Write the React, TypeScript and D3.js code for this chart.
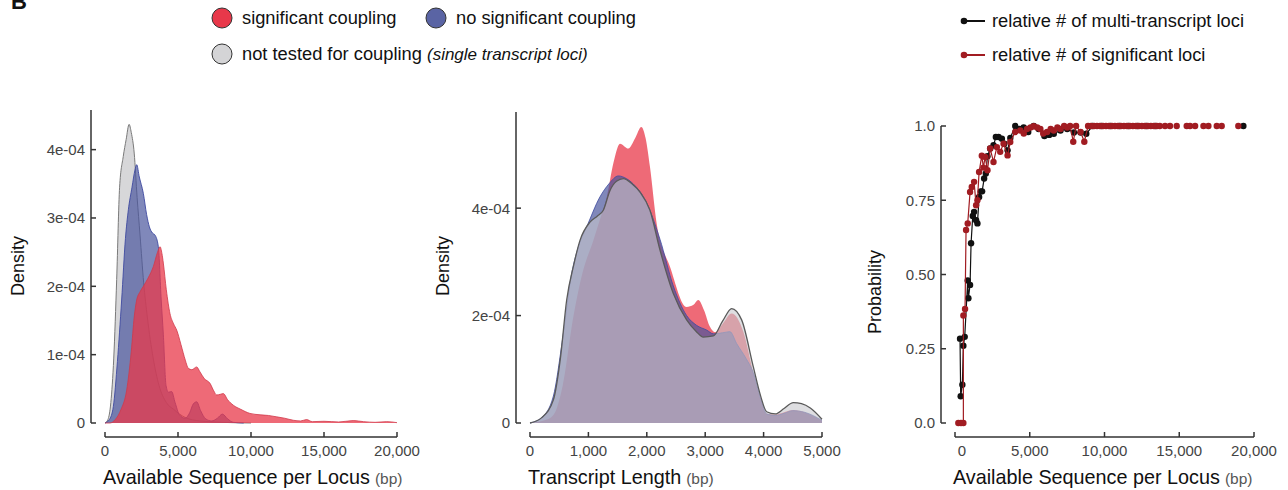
import React from "react";
import * as d3 from "d3";

type P = [number, number];

// ---------- Panel 1: Available Sequence per Locus (bp) vs density (x1e-4) ----------
const seqNotTested: P[] = [
  [0, 0], [200, 0.05], [400, 0.3], [600, 0.95], [800, 2.1], [1000, 3.45], [1250, 3.9], [1450, 4.15],
  [1650, 4.37], [1800, 4.25], [2000, 3.95], [2200, 3.3], [2400, 2.75], [2650, 2.05], [2900, 1.55],
  [3300, 0.95], [3700, 0.55], [4200, 0.3], [4700, 0.2], [5500, 0.08], [6500, 0.03], [8000, 0.01], [10000, 0],
];
const seqNoSig: P[] = [
  [0, 0], [300, 0.05], [570, 0.24], [850, 0.9], [1140, 1.8], [1400, 2.7], [1600, 3.12], [1850, 3.45],
  [2050, 3.7], [2170, 3.78], [2350, 3.6], [2626, 3.36], [2850, 3.05], [3040, 2.87], [3250, 2.78],
  [3425, 2.75], [3653, 2.58], [3850, 1.8], [3995, 1.3], [4180, 0.55], [4350, 0.45], [4566, 0.46],
  [4800, 0.3], [5100, 0.12], [5480, 0.07], [5800, 0.15], [6050, 0.28], [6280, 0.31], [6550, 0.18],
  [6900, 0.06], [7305, 0.03], [7700, 0.07], [8040, 0.13], [8400, 0.06], [8790, 0.01], [9500, 0],
];
const seqSig: P[] = [
  [0, 0], [340, 0], [700, 0.05], [1100, 0.2], [1484, 0.48], [1800, 1.05], [2000, 1.55], [2170, 1.8],
  [2400, 1.92], [2626, 2.0], [2950, 2.12], [3312, 2.29], [3600, 2.5], [3768, 2.58], [3900, 2.48],
  [3996, 2.34], [4200, 1.95], [4453, 1.6], [4700, 1.45], [4910, 1.36], [5200, 1.15], [5500, 0.92],
  [5708, 0.8], [5950, 0.78], [6280, 0.82], [6500, 0.75], [6800, 0.65], [7193, 0.58], [7450, 0.47],
  [7650, 0.41], [7900, 0.42], [8107, 0.43], [8400, 0.34], [8790, 0.26], [9300, 0.2], [9930, 0.14],
  [10620, 0.12], [11200, 0.11], [11760, 0.09], [12300, 0.07], [12900, 0.04], [13400, 0.03],
  [13800, 0.05], [14200, 0.02], [15000, 0.025], [16000, 0.015], [17000, 0.035], [17700, 0.02],
  [18500, 0.01], [19300, 0.02], [20000, 0.005],
];
const seqXTicks = [0, 5000, 10000, 15000, 20000];
const seqXTickLabels = ["0", "5,000", "10,000", "15,000", "20,000"];
const dens1YTicks = [0, 1, 2, 3, 4];
const dens1YTickLabels = ["0", "1e-04", "2e-04", "3e-04", "4e-04"];

// ---------- Panel 2: Transcript Length (bp) vs density (x1e-4) ----------
const lenNotTested: P[] = [
  [0, 0], [200, 0.1], [400, 0.43], [520, 1.2], [628, 2.29], [750, 2.95], [856, 3.4], [1027, 3.74],
  [1150, 3.85], [1255, 3.96], [1370, 4.33], [1480, 4.5], [1598, 4.55], [1750, 4.45], [1883, 4.3],
  [2054, 3.96], [2226, 3.22], [2454, 2.41], [2682, 1.92], [2850, 1.7], [2967, 1.6], [3140, 1.62],
  [3300, 1.9], [3453, 2.13], [3624, 1.92], [3823, 1.05], [3950, 0.5], [4052, 0.21], [4200, 0.17],
  [4350, 0.27], [4508, 0.38], [4650, 0.36], [4800, 0.28], [5000, 0.07],
];
const lenNoSig: P[] = [
  [0, 0], [200, 0.1], [400, 0.5], [550, 1.5], [700, 2.7], [850, 3.35], [970, 3.65], [1198, 4.21],
  [1350, 4.45], [1513, 4.6], [1650, 4.55], [1769, 4.45], [1997, 4.1], [2226, 3.42], [2454, 2.55],
  [2682, 2.0], [2850, 1.82], [3025, 1.73], [3140, 1.66], [3300, 1.68], [3424, 1.7], [3538, 1.48],
  [3700, 1.2], [3823, 0.94], [3950, 0.45], [4052, 0.17], [4200, 0.14], [4350, 0.18], [4500, 0.23],
  [4700, 0.2], [5000, 0.05],
];
const lenSig: P[] = [
  [0, 0], [250, 0.05], [400, 0.15], [560, 0.7], [742, 1.98], [900, 2.8], [1084, 3.4], [1200, 3.8],
  [1313, 4.2], [1430, 4.85], [1541, 5.2], [1683, 5.11], [1800, 5.3], [1906, 5.51], [1980, 5.3],
  [2054, 4.77], [2168, 3.72], [2397, 2.91], [2682, 2.16], [2800, 2.2], [2882, 2.29], [2980, 2.1],
  [3082, 1.79], [3168, 1.69], [3300, 1.85], [3453, 2.04], [3653, 1.7], [3823, 0.94], [3950, 0.45],
  [4052, 0.17], [4200, 0.16], [4350, 0.2], [4508, 0.24], [4700, 0.2], [5000, 0.04],
];
const lenXTicks = [0, 1000, 2000, 3000, 4000, 5000];
const lenXTickLabels = ["0", "1,000", "2,000", "3,000", "4,000", "5,000"];
const dens2YTicks = [0, 2, 4];
const dens2YTickLabels = ["0", "2e-04", "4e-04"];

// ---------- Panel 3: probability vs available sequence per locus ----------
const multiLociLine: P[] = [
  [336, 0.284], [381, 0.09], [493, 0.129], [560, 0.26], [650, 0.29], [851, 0.48], [896, 0.42],
  [1008, 0.465], [1075, 0.605], [1187, 0.697], [1277, 0.711], [1411, 0.683], [1500, 0.672],
  [1612, 0.761], [1725, 0.78], [1814, 0.78], [1949, 0.823], [2061, 0.84], [2173, 0.898], [2352, 0.924],
  [2576, 0.935], [2733, 0.963], [2912, 0.963], [3136, 0.957], [3300, 0.94], [3517, 0.918], [3700, 0.96],
  [4032, 1.0], [4300, 0.99], [4592, 0.995], [4900, 0.98], [5264, 1.0], [5600, 0.99], [5981, 0.966],
  [6300, 0.97], [6608, 0.974], [7056, 0.985], [7504, 0.99], [7952, 0.978], [8400, 0.978], [8781, 0.974],
  [9200, 1], [9800, 1], [10400, 1], [11000, 1], [11600, 1], [12200, 1], [12800, 1], [13400, 1],
];
const multiLociIsolated: P[] = [[19290, 1]];
const sigLociLine: P[] = [
  [224, 0], [403, 0], [560, 0], [560, 0.362], [672, 0.384], [739, 0.65], [851, 0.672], [1008, 0.778],
  [1120, 0.795], [1277, 0.812], [1411, 0.733], [1500, 0.75], [1612, 0.845], [1792, 0.9], [1900, 0.86],
  [2016, 0.896], [2173, 0.851], [2352, 0.924], [2576, 0.879], [2800, 0.929], [3024, 0.913], [3248, 0.94],
  [3517, 0.901], [3696, 0.946], [4032, 0.98], [4368, 0.985], [4600, 0.975], [4816, 0.99], [5050, 0.995],
  [5264, 0.999], [5500, 0.995], [5712, 0.99], [5900, 0.975], [6160, 0.98], [6400, 0.99], [6608, 0.985],
  [6850, 0.995], [7056, 0.99], [7300, 1], [7504, 0.995], [7700, 1], [7910, 0.947], [8100, 1], [8400, 0.98],
  [8650, 0.947], [8900, 1], [9100, 1], [9300, 1], [9500, 1], [9700, 1], [9900, 1], [10100, 1], [10300, 1],
  [10500, 1], [10700, 1], [10900, 1], [11100, 1], [11300, 1], [11500, 1], [11700, 1], [11900, 1],
  [12100, 1], [12300, 1], [12500, 1], [12700, 1], [12900, 1], [13100, 1], [13300, 1], [13500, 1], [13700, 1],
];
const sigLociIsolated: P[] = [
  [14050, 1], [14380, 1], [14830, 1], [15500, 1], [15720, 1], [16060, 1], [16620, 1], [16950, 1],
  [17510, 1], [17840, 1], [18950, 1],
];
const probYTicks = [0, 0.25, 0.5, 0.75, 1];
const probYTickLabels = ["0.0", "0.25", "0.50", "0.75", "1.0"];

// ---------- Legend ----------
const densityLegend = [
  { label: "significant coupling", italic: "", color: "#e8384a" },
  { label: "no significant coupling", italic: "", color: "#5a64a4" },
  { label: "not tested for coupling ", italic: "(single transcript loci)", color: "#d4d4d6" },
];
const probLegend = [
  { label: "relative # of multi-transcript loci", color: "#111111" },
  { label: "relative # of significant loci", color: "#a11c22" },
];

const FONT = "'Liberation Sans', Arial, Helvetica, sans-serif";
const TICK_COLOR = "#444";
const AXIS_COLOR = "#333";

type AxisProps = {
  x: d3.ScaleLinear<number, number>;
  y: d3.ScaleLinear<number, number>;
  xTicks: number[];
  xLabels: string[];
  yTicks: number[];
  yLabels: string[];
  xAxisY: number;
  yAxisX: number;
  yTopPx: number;
  xTitle: string;
  yTitle: string;
  yTitleX: number;
  yTitleY: number;
  firstXLabelShift?: number;
};

function Axes(p: AxisProps) {
  const [xa, xb] = p.x.range();
  const y0 = p.y(0);
  return (
    <g fontFamily={FONT}>
      <line x1={p.yAxisX} x2={p.yAxisX} y1={p.yTopPx} y2={y0} stroke={AXIS_COLOR} strokeWidth={1.5} />
      {p.yTicks.map((t, i) => (
        <g key={"yt" + i}>
          <line x1={p.yAxisX} x2={p.yAxisX + 5} y1={p.y(t)} y2={p.y(t)} stroke={AXIS_COLOR} strokeWidth={1.5} />
          <text x={p.yAxisX - 6} y={p.y(t)} dy="0.36em" textAnchor="end" fontSize={15} fill={TICK_COLOR}>
            {p.yLabels[i]}
          </text>
        </g>
      ))}
      <line x1={xa} x2={xb} y1={p.xAxisY} y2={p.xAxisY} stroke={AXIS_COLOR} strokeWidth={1.5} />
      {p.xTicks.map((t, i) => (
        <g key={"xt" + i}>
          <line x1={p.x(t)} x2={p.x(t)} y1={p.xAxisY} y2={p.xAxisY - 5} stroke={AXIS_COLOR} strokeWidth={1.5} />
          <text
            x={p.x(t) + (i === 0 && p.firstXLabelShift ? p.firstXLabelShift : 0)}
            y={p.xAxisY + 19}
            textAnchor="middle"
            fontSize={15}
            fill={TICK_COLOR}
          >
            {p.xLabels[i]}
          </text>
        </g>
      ))}
      <text x={xa - 2} y={484} fontSize={19.8} fill="#111">
        {p.xTitle}
        <tspan fontSize={15.5} fill="#555" dx={5}>(bp)</tspan>
      </text>
      <text
        transform={`translate(${p.yTitleX},${p.yTitleY}) rotate(-90)`}
        textAnchor="middle"
        dy="0.35em"
        fontSize={18}
        fill="#111"
      >
        {p.yTitle}
      </text>
    </g>
  );
}

export default function App() {
  const x1 = d3.scaleLinear().domain([0, 20000]).range([105, 397]);
  const y1 = d3.scaleLinear().domain([0, 4.58]).range([423, 110]);
  const x2 = d3.scaleLinear().domain([0, 5000]).range([530, 822]);
  const y2 = d3.scaleLinear().domain([0, 5.79]).range([423, 112]);
  const x3 = d3.scaleLinear().domain([0, 20000]).range([955, 1254]);
  const y3 = d3.scaleLinear().domain([0, 1]).range([423, 126]);

  const area = (x: d3.ScaleLinear<number, number>, y: d3.ScaleLinear<number, number>) =>
    d3.area<P>().x((d) => x(d[0])).y0(y(0)).y1((d) => y(d[1])).curve(d3.curveMonotoneX);
  const edge = (x: d3.ScaleLinear<number, number>, y: d3.ScaleLinear<number, number>) =>
    d3.line<P>().x((d) => x(d[0])).y((d) => y(d[1])).curve(d3.curveMonotoneX);
  const a1 = area(x1, y1), e1 = edge(x1, y1);
  const a2 = area(x2, y2), e2 = edge(x2, y2);
  const l3 = d3.line<P>().x((d) => x3(d[0])).y((d) => y3(d[1]));

  return (
    <svg width={1288} height={490} style={{ display: "block", position: "absolute", left: 0, top: 0 }}>
      <rect width={1288} height={490} fill="#fff" />
      <text x={11} y={9} fontFamily={FONT} fontWeight="bold" fontSize={22} fill="#111">B</text>

      <g fontFamily={FONT} fontSize={18.3} fill="#111">
        {densityLegend.map((d, i) => {
          const cx = i === 1 ? 436 : 222;
          const cy = i === 2 ? 54 : 18;
          return (
            <g key={"dl" + i}>
              <circle cx={cx} cy={cy} r={10} fill={d.color} stroke="#333" strokeWidth={1} />
              <text x={cx + 20} y={cy + 6}>
                {d.label}
                {d.italic && <tspan fontStyle="italic" fontSize={17}>{d.italic}</tspan>}
              </text>
            </g>
          );
        })}
      </g>
      <g fontFamily={FONT} fontSize={18.3} fill="#111">
        {probLegend.map((d, i) => {
          const cy = i === 0 ? 21 : 55;
          return (
            <g key={"pl" + i}>
              <line x1={963} x2={985} y1={cy} y2={cy} stroke={d.color} strokeWidth={2} />
              <circle cx={964} cy={cy} r={3.3} fill={d.color} />
              <text x={992} y={cy + 6}>{d.label}</text>
            </g>
          );
        })}
      </g>

      {/* Panel 1 */}
      <g>
        <path d={a1(seqNotTested) || ""} fill="#d7d7d9" />
        <path d={e1(seqNotTested) || ""} fill="none" stroke="#7a7a7a" strokeWidth={1} />
        <path d={a1(seqNoSig) || ""} fill="#4a569c" fillOpacity={0.7} />
        <path d={e1(seqNoSig) || ""} fill="none" stroke="#3e4aa0" strokeWidth={0.9} />
        <path d={a1(seqSig) || ""} fill="#e8384a" fillOpacity={0.75} />
        <path d={e1(seqSig) || ""} fill="none" stroke="#d0394a" strokeWidth={0.8} />
      </g>
      <Axes
        x={x1} y={y1} xTicks={seqXTicks} xLabels={seqXTickLabels} yTicks={dens1YTicks} yLabels={dens1YTickLabels}
        xAxisY={437} yAxisX={91} yTopPx={110} xTitle="Available Sequence per Locus" yTitle="Density"
        yTitleX={18} yTitleY={266}
      />

      {/* Panel 2 */}
      <g>
        <path d={a2(lenSig) || ""} fill="#e8384a" fillOpacity={0.75} />
        <path d={a2(lenNoSig) || ""} fill="#4a569c" fillOpacity={0.7} />
        <path d={e2(lenNoSig) || ""} fill="none" stroke="#3e4aa0" strokeWidth={0.8} />
        <path d={a2(lenNotTested) || ""} fill="#c8c8cd" fillOpacity={0.6} />
        <path d={e2(lenNotTested) || ""} fill="none" stroke="#5a5a5a" strokeWidth={1.3} />
      </g>
      <Axes
        x={x2} y={y2} xTicks={lenXTicks} xLabels={lenXTickLabels} yTicks={dens2YTicks} yLabels={dens2YTickLabels}
        xAxisY={437} yAxisX={516} yTopPx={112} xTitle="Transcript Length" yTitle="Density"
        yTitleX={443} yTitleY={266}
      />

      {/* Panel 3 */}
      <g>
        <path d={l3(multiLociLine) || ""} fill="none" stroke="#111" strokeWidth={1.2} />
        {multiLociLine.concat(multiLociIsolated).map((d, i) => (
          <circle key={"b" + i} cx={x3(d[0])} cy={y3(d[1])} r={3.2} fill="#111" />
        ))}
        <path d={l3(sigLociLine) || ""} fill="none" stroke="#a11c22" strokeWidth={1.2} />
        {sigLociLine.concat(sigLociIsolated).map((d, i) => (
          <circle key={"r" + i} cx={x3(d[0])} cy={y3(d[1])} r={3.2} fill="#a11c22" />
        ))}
      </g>
      <Axes
        x={x3} y={y3} xTicks={seqXTicks} xLabels={seqXTickLabels} yTicks={probYTicks} yLabels={probYTickLabels}
        xAxisY={437} yAxisX={941} yTopPx={126} xTitle="Available Sequence per Locus" yTitle="Probability"
        yTitleX={875} yTitleY={292} firstXLabelShift={7}
      />
    </svg>
  );
}
